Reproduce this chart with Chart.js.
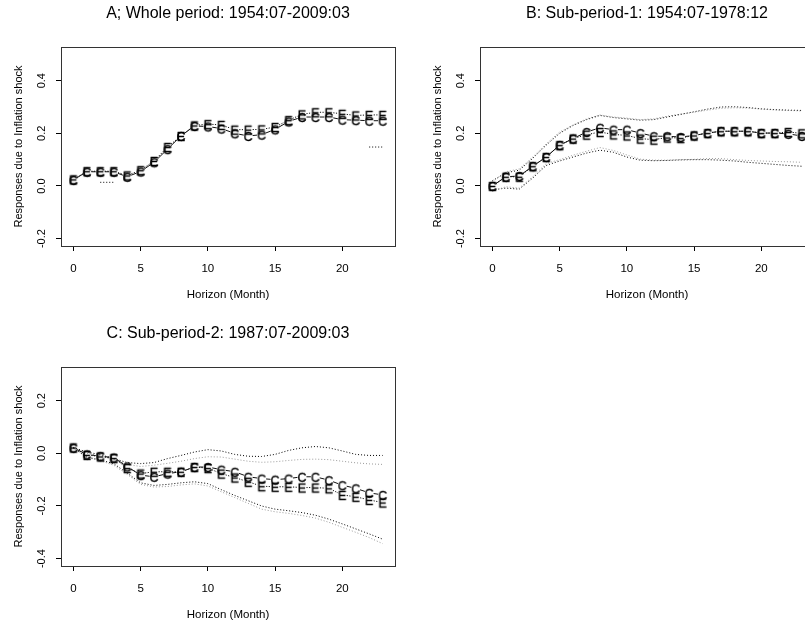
<!DOCTYPE html>
<html>
<head>
<meta charset="utf-8">
<script src="https://cdn.jsdelivr.net/npm/chart.js@4.4.1/dist/chart.umd.min.js"></script>
<style>
  body { margin: 0; background: #fff; width: 805px; height: 625px; overflow: hidden; position: relative; }
  canvas { position: absolute; }
</style>
</head>
<body>
<canvas id="chartA" width="456" height="310" style="left:0;top:0"></canvas>
<canvas id="chartB" width="456" height="310" style="left:419px;top:0"></canvas>
<canvas id="chartC" width="456" height="310" style="left:0;top:320px"></canvas>
<script>
// horizon 0..23
const horizon = [0,1,2,3,4,5,6,7,8,9,10,11,12,13,14,15,16,17,18,19,20,21,22,23];
const xTicks = [0, 5, 10, 15, 20];

// A: whole period
const respA_C = [0.023,0.054,0.054,0.054,0.035,0.055,0.090,0.140,0.190,0.228,0.226,0.218,0.200,0.190,0.195,0.215,0.245,0.262,0.262,0.262,0.252,0.250,0.248,0.248];
const respA_E = [0.025,0.056,0.056,0.056,0.040,0.060,0.095,0.148,0.190,0.230,0.235,0.232,0.214,0.214,0.215,0.224,0.250,0.272,0.280,0.280,0.274,0.268,0.270,0.270];
const bandA_1 = [null,null,0.014,0.014,null,null,null,null,null,null,null,null,null,null,null,null,null,null,null,null,null,null,null,null];
const bandA_2 = [null,null,null,null,null,null,null,null,null,null,null,null,null,null,null,null,null,null,null,null,null,null,0.148,0.148];

// B: sub-period 1
const respB_C = [0.000,0.035,0.038,0.075,0.110,0.155,0.180,0.205,0.221,0.214,0.214,0.201,0.189,0.189,0.186,0.192,0.201,0.208,0.208,0.208,0.201,0.201,0.198,0.190];
const respB_E = [0.000,0.035,0.035,0.075,0.110,0.155,0.180,0.195,0.205,0.196,0.192,0.180,0.176,0.184,0.182,0.192,0.201,0.208,0.208,0.208,0.201,0.201,0.205,0.200];
const upB_1 = [0.015,0.054,0.065,0.110,0.160,0.205,0.232,0.255,0.270,0.262,0.258,0.252,0.255,0.265,0.273,0.280,0.288,0.295,0.297,0.296,0.292,0.289,0.287,0.285];
const upB_2 = [0.020,0.050,0.060,0.105,0.155,0.200,0.230,0.252,0.268,0.260,0.255,0.250,0.252,0.262,0.272,0.282,0.292,0.300,0.301,0.298,0.293,0.290,0.288,0.287];
const loB_1 = [-0.020,-0.003,-0.008,0.035,0.085,0.100,0.117,0.132,0.146,0.135,0.118,0.102,0.098,0.098,0.100,0.101,0.104,0.104,0.100,0.097,0.095,0.093,0.092,0.090];
const loB_2 = [-0.015,-0.008,-0.012,0.030,0.078,0.095,0.110,0.125,0.136,0.128,0.110,0.098,0.096,0.097,0.099,0.100,0.100,0.098,0.095,0.090,0.086,0.082,0.078,0.075];

// C: sub-period 2
const respC_C = [0.021,-0.004,-0.011,-0.016,-0.050,-0.083,-0.089,-0.077,-0.070,-0.052,-0.052,-0.062,-0.070,-0.089,-0.096,-0.100,-0.096,-0.089,-0.089,-0.102,-0.121,-0.133,-0.150,-0.158];
const respC_E = [0.022,-0.006,-0.012,-0.018,-0.056,-0.077,-0.070,-0.070,-0.070,-0.052,-0.056,-0.077,-0.092,-0.108,-0.125,-0.127,-0.127,-0.130,-0.130,-0.133,-0.158,-0.165,-0.177,-0.187];
const upC_1 = [0.022,0.005,-0.005,-0.020,-0.035,-0.039,-0.035,-0.020,-0.008,0.005,0.014,0.009,-0.004,-0.011,-0.012,-0.004,0.011,0.021,0.026,0.021,0.009,-0.004,-0.008,-0.008];
const upC_2 = [0.022,0.000,-0.010,-0.025,-0.042,-0.050,-0.045,-0.038,-0.030,-0.020,-0.013,-0.014,-0.022,-0.030,-0.034,-0.032,-0.027,-0.023,-0.022,-0.024,-0.030,-0.036,-0.040,-0.042];
const loC_1 = [0.020,-0.014,-0.025,-0.039,-0.075,-0.112,-0.122,-0.118,-0.112,-0.108,-0.115,-0.138,-0.160,-0.180,-0.200,-0.212,-0.218,-0.225,-0.235,-0.250,-0.268,-0.287,-0.306,-0.326];
const loC_2 = [0.020,-0.016,-0.028,-0.045,-0.080,-0.118,-0.128,-0.126,-0.120,-0.116,-0.124,-0.146,-0.168,-0.190,-0.212,-0.222,-0.228,-0.236,-0.246,-0.262,-0.281,-0.300,-0.320,-0.343];

const FONT = '"Liberation Sans", Arial, sans-serif';

// letters used as plot symbols (like pch = "C" / "E")
function glyph(ch) {
  const c = document.createElement('canvas');
  c.width = 12; c.height = 14;
  const g = c.getContext('2d');
  g.font = '12.5px ' + FONT;
  g.fillStyle = '#000';
  g.strokeStyle = '#000';
  g.lineWidth = 0.35;
  g.textAlign = 'center';
  g.textBaseline = 'alphabetic';
  g.fillText(ch, 6, 11.5);
  g.strokeText(ch, 6, 11.5);
  return c;
}
const symC = glyph('C');
const symE = glyph('E');

// dash pattern that leaves a gap round each symbol (type = "b")
function gapDash(c, dotted) {
  const L = Math.hypot(c.p1.x - c.p0.x, c.p1.y - c.p0.y);
  const g = 4.5;
  if (L <= 2 * g) return [0, L + 1];
  const out = [0, g];
  let rem = L - 2 * g;
  if (!dotted) { out.push(rem, g + 1); return out; }
  while (rem > 0) {
    const d = Math.min(1.2, rem); rem -= d;
    const s = Math.min(1.4, rem); rem -= s;
    out.push(d, s);
  }
  out[out.length - 1] += g + 1;
  return out;
}

const pts = vals => horizon.map((h, i) => ({ x: h, y: vals[i] }));

function respSet(vals, sym, dotted) {
  return {
    data: pts(vals),
    borderColor: '#111',
    borderWidth: 1,
    pointStyle: sym,
    pointRadius: 5,
    segment: { borderDash: c => gapDash(c, dotted) },
    order: 1
  };
}
function bandSet(vals, color) {
  return {
    data: pts(vals),
    borderColor: color,
    borderWidth: 1,
    borderDash: [1, 2],
    pointRadius: 0,
    spanGaps: false,
    order: 2
  };
}

const boxPlugin = {
  id: 'box',
  afterDraw(chart) {
    const a = chart.chartArea, ctx = chart.ctx;
    ctx.save();
    ctx.strokeStyle = '#333';
    ctx.lineWidth = 1;
    ctx.strokeRect(Math.round(a.left) + 0.5, Math.round(a.top) + 0.5, Math.round(a.right - a.left), Math.round(a.bottom - a.top));
    ctx.restore();
  }
};

function makeChart(id, title, datasets, yMin, yMax, yTicks) {
  return new Chart(document.getElementById(id), {
    type: 'line',
    data: { datasets },
    plugins: [boxPlugin],
    options: {
      responsive: false,
      animation: false,
      events: [],
      layout: { padding: { left: 0, right: 61, top: 0, bottom: 0 } },
      plugins: {
        legend: { display: false },
        tooltip: { enabled: false },
        title: {
          display: true,
          text: title,
          fullSize: false,
          color: '#000',
          font: { family: FONT, size: 16, weight: 'normal' },
          padding: { top: 4, bottom: 23.8 }
        }
      },
      scales: {
        x: {
          type: 'linear',
          min: -0.92,
          max: 23.92,
          afterBuildTicks: s => { s.ticks = xTicks.map(v => ({ value: v })); },
          afterFit: s => { s.height = 64; },
          grid: { drawOnChartArea: false, drawTicks: true, tickLength: 5, color: '#000' },
          border: { display: false },
          ticks: { color: '#000', padding: 11, font: { family: FONT, size: 11.5 }, maxRotation: 0, callback: v => String(v) },
          title: { display: true, text: 'Horizon (Month)', color: '#000', font: { family: FONT, size: 11.5 }, padding: { top: 0, bottom: 8 } }
        },
        y: {
          min: yMin,
          max: yMax,
          afterBuildTicks: s => { s.ticks = yTicks.map(v => ({ value: v })); },
          afterFit: s => { s.width = 61; },
          grid: { drawOnChartArea: false, drawTicks: true, tickLength: 5, color: '#000' },
          border: { display: false },
          ticks: { color: '#000', padding: 5, crossAlign: 'center', minRotation: 90, maxRotation: 90, font: { family: FONT, size: 11 }, callback: v => v.toFixed(1) },
          title: { display: true, text: 'Responses due to Inflation shock', color: '#000', font: { family: FONT, size: 11 }, padding: { top: 12, bottom: 0 } }
        }
      }
    }
  });
}

makeChart('chartA', 'A; Whole period: 1954:07-2009:03', [
  respSet(respA_E, symE, true),
  respSet(respA_C, symC, false),
  bandSet(bandA_1, '#000'),
  bandSet(bandA_2, '#000')
], -0.228, 0.528, [-0.2, 0.0, 0.2, 0.4]);

makeChart('chartB', 'B: Sub-period-1: 1954:07-1978:12', [
  respSet(respB_E, symE, true),
  respSet(respB_C, symC, false),
  bandSet(upB_1, '#999'),
  bandSet(upB_2, '#000'),
  bandSet(loB_1, '#999'),
  bandSet(loB_2, '#000')
], -0.228, 0.528, [-0.2, 0.0, 0.2, 0.4]);

makeChart('chartC', 'C: Sub-period-2: 1987:07-2009:03', [
  respSet(respC_E, symE, true),
  respSet(respC_C, symC, false),
  bandSet(upC_1, '#000'),
  bandSet(upC_2, '#999'),
  bandSet(loC_1, '#000'),
  bandSet(loC_2, '#999')
], -0.428, 0.328, [-0.4, -0.2, 0.0, 0.2]);
</script>
</body>
</html>
